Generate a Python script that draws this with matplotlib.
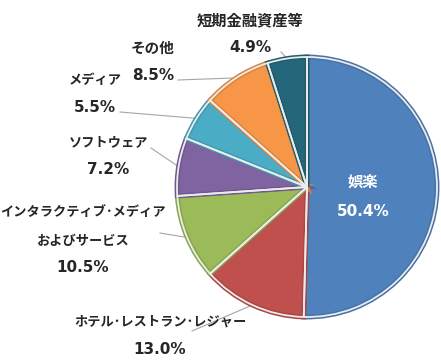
import numpy as np
import matplotlib.pyplot as plt
import matplotlib.colors as mcolors

JP = ['Noto Sans CJK JP', 'DejaVu Sans']
NUM = ['DejaVu Sans', 'Noto Sans CJK JP']

# ── データ ────────────────────────────────────────────────
labels = [['娯楽'], ['ホテル･レストラン･レジャー'], ['インタラクティブ･メディア', 'およびサービス'],
          ['ソフトウェア'], ['メディア'], ['その他'], ['短期金融資産等']]
shares = [50.4, 13.0, 10.5, 7.2, 5.5, 8.5, 4.9]
colors = ['#4f81bd', '#c0504d', '#9bbb59', '#8064a2', '#4bacc6', '#f79646', '#25677a']

# ラベル位置（ピクセル, 上から）: x中心, 各行のy
label_x = [363, 160, 83, 108, 95, 153, 250]
label_y = [[183, 211], [322, 349], [212, 241, 268], [142, 170], [80, 108], [48, 75], [20, 48]]
label_fs = [11, 9.5, 9.5, 9.5, 9.5, 10.5, 11]
line_start = [None, (192, 331), (160, 233), (151, 148), (120, 112), (178, 80), (281, 52)]

W, H = 441, 364
CX, CY, R = 307, 187, 130

fig = plt.figure(figsize=(W / 100, H / 100), dpi=100)
ax = fig.add_axes([0, 0, 1, 1])

def darker(c, f=0.88):
    r, g, b = mcolors.to_rgb(c)
    return (r * f, g * f, b * f)

wedges, _ = ax.pie(shares, colors=colors, startangle=90, counterclock=False,
                   center=(CX, H - CY), radius=R, frame=True,
                   wedgeprops={'edgecolor': 'none'})
for w, c in zip(wedges, colors):
    w.set_edgecolor(darker(c))
    w.set_linewidth(3.5)
ax.pie(shares, colors=['none'] * len(shares), startangle=90, counterclock=False,
       center=(CX, H - CY), radius=R, frame=True,
       wedgeprops={'edgecolor': '#ececec', 'linewidth': 1.3, 'fill': False})
ax.set_xlim(0, W)
ax.set_ylim(0, H)
ax.set_aspect('equal')
ax.axis('off')

TXT = '#262626'
for i, val in enumerate(shares):
    col = 'white' if i == 0 else TXT
    x = label_x[i]
    ys = label_y[i]
    for line, y in zip(labels[i], ys[:-1]):
        ax.text(x, H - y, line, ha='center', va='center', fontsize=label_fs[i],
                fontweight='bold', color=col, family=JP)
    ax.text(x, H - ys[-1], f'{val:.1f}%', ha='center', va='center', fontsize=11,
            fontweight='bold', color=col, family=NUM)
    if line_start[i] is not None:
        w = wedges[i]
        mid = np.deg2rad((w.theta1 + w.theta2) / 2)
        ex, ey = CX + R * np.cos(mid), (H - CY) + R * np.sin(mid)
        sx, sy = line_start[i]
        ax.plot([sx, ex], [H - sy, ey], color='#a6a6a6', lw=0.8, zorder=0.5)

fig.savefig('out.png', dpi=100, facecolor='white')
